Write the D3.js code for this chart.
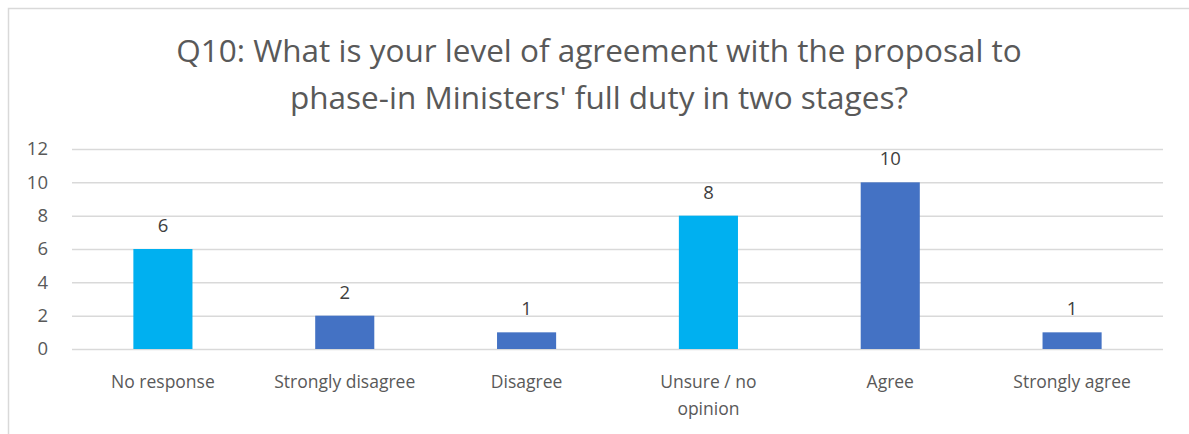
<!DOCTYPE html>
<html>
<head>
<meta charset="utf-8">
<style>
  body { margin: 0; background: #fff; }
  svg { display: block; font-family: "Open Sans", "Noto Sans", sans-serif; }
</style>
</head>
<body>
<script src="https://cdn.jsdelivr.net/npm/d3@7"></script>
<script>
// answers and counts
var categories = ["No response", "Strongly disagree", "Disagree", "Unsure / no opinion", "Agree", "Strongly agree"];
var counts = [6, 2, 1, 8, 10, 1];
var barColors = ["#00B0F0", "#4472C4", "#4472C4", "#00B0F0", "#4472C4", "#4472C4"];
var yTicks = [0, 2, 4, 6, 8, 10, 12];
var titleLines = ["Q10: What is your level of agreement with the proposal to",
                  "phase-in Ministers' full duty in two stages?"];

var w = 1189, h = 434;
var plotLeft = 72, plotRight = 1163, plotTop = 149, plotBottom = 349;

var svg = d3.select("body").append("svg")
  .attr("width", w)
  .attr("height", h);

// chart frame (only the top and left edges fall inside the picture)
svg.append("rect")
  .attr("x", 8.5).attr("y", 8.5)
  .attr("width", w).attr("height", h)
  .attr("fill", "none")
  .attr("stroke", "#d9d9d9")
  .attr("stroke-width", 1.5);

var x = d3.scaleBand()
  .domain(categories)
  .range([plotLeft, plotRight])
  .paddingInner(0.675)
  .paddingOuter(0.3375);

var y = d3.scaleLinear()
  .domain([0, 12])
  .range([plotBottom, plotTop]);

// title
svg.selectAll("text.title")
  .data(titleLines)
  .enter()
  .append("text")
  .attr("class", "title")
  .attr("x", 599)
  .attr("y", function(d, i) { return 62 + i * 47; })
  .attr("text-anchor", "middle")
  .attr("font-size", "31.5px")
  .attr("fill", "#595959")
  .text(function(d) { return d; });

// gridlines
svg.append("g")
  .attr("transform", "translate(" + plotLeft + ",0)")
  .call(d3.axisLeft(y).tickValues(yTicks).tickSize(-(plotRight - plotLeft)).tickFormat(""))
  .call(function(g) {
    g.select(".domain").remove();
    g.selectAll(".tick line").attr("stroke", "#d9d9d9").attr("stroke-width", 1.5);
  });

// y labels
svg.append("g")
  .attr("transform", "translate(" + 48 + ",0)")
  .call(d3.axisLeft(y).tickValues(yTicks).tickSize(0).tickPadding(0))
  .call(function(g) {
    g.select(".domain").remove();
    g.selectAll(".tick text")
      .attr("font-family", "Open Sans, sans-serif")
      .attr("font-size", "18.5px")
      .attr("fill", "#595959");
  });

// bars
svg.selectAll("rect.bar")
  .data(counts)
  .enter()
  .append("rect")
  .attr("class", "bar")
  .attr("x", function(d, i) { return x(categories[i]); })
  .attr("y", function(d) { return y(d); })
  .attr("width", x.bandwidth())
  .attr("height", function(d) { return y(0) - y(d); })
  .attr("fill", function(d, i) { return barColors[i]; });

// value labels
svg.selectAll("text.val")
  .data(counts)
  .enter()
  .append("text")
  .attr("class", "val")
  .attr("x", function(d, i) { return x(categories[i]) + x.bandwidth() / 2; })
  .attr("y", function(d) { return y(d) - 17; })
  .attr("text-anchor", "middle")
  .attr("font-size", "18.5px")
  .attr("fill", "#404040")
  .text(function(d) { return d; });

// category labels, wrapped like the original
var wrapped = {"Unsure / no opinion": ["Unsure / no", "opinion"]};
var cat = svg.selectAll("text.cat")
  .data(categories)
  .enter()
  .append("text")
  .attr("class", "cat")
  .attr("text-anchor", "middle")
  .attr("font-size", "17.5px")
  .attr("fill", "#595959");
cat.selectAll("tspan")
  .data(function(d) { return (wrapped[d] || [d]).map(function(t) { return {cat: d, t: t}; }); })
  .enter()
  .append("tspan")
  .attr("x", function(d) { return x(d.cat) + x.bandwidth() / 2; })
  .attr("y", function(d, i) { return 388 + i * 27; })
  .text(function(d) { return d.t; });
</script>
</body>
</html>
